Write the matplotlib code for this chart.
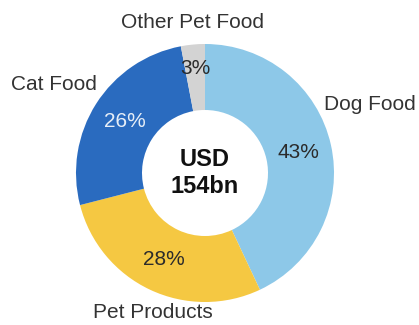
import matplotlib.pyplot as plt

plt.rcParams['font.family'] = ['Liberation Sans', 'DejaVu Sans']

# Market split by segment (share of total, %)
segmentos = ["Dog Food", "Pet Products", "Cat Food", "Other Pet Food"]
porcentajes = [43, 28, 26, 3]
colores = ["#8DC8E8", "#F5C842", "#2A6BBF", "#D3D3D3"]
color_pct = ["#2B2B2B", "#2B2B2B", "#E6EEF7", "#2B2B2B"]
total = "USD\n154bn"

fig = plt.figure(figsize=(4.19, 3.25), dpi=100)
ax = fig.add_axes([0, 0, 1, 1])

centro = (205, 152)
radio = 129

wedges, textos, pcts = ax.pie(
    porcentajes,
    colors=colores,
    startangle=90,
    counterclock=False,
    center=centro,
    radius=radio,
    autopct="%d%%",
    pctdistance=0.74,
    wedgeprops=dict(width=66, linewidth=0),
    textprops=dict(fontsize=15),
    frame=True,
)
ax.set_xlim(0, 419)
ax.set_ylim(0, 325)
ax.axis("off")

for t, c in zip(pcts, color_pct):
    t.set_color(c)
# the thin slice label sits a little further out
x, y = pcts[3].get_position()
pcts[3].set_position((centro[0] + (x - centro[0]) * 1.1, centro[1] + (y - centro[1]) * 1.1))

# segment names around the ring
posiciones = {
    "Dog Food": (370, 220),
    "Pet Products": (153, 12),
    "Cat Food": (54, 240),
    "Other Pet Food": (192, 303),
}
for nombre in segmentos:
    ax.text(*posiciones[nombre], nombre, fontsize=15, color="#333333",
            ha="center", va="center")

ax.text(centro[0], centro[1], total, fontsize=17, fontweight="bold",
        ha="center", va="center", linespacing=1.2, color="#111111")

fig.savefig("out.png", dpi=100)
